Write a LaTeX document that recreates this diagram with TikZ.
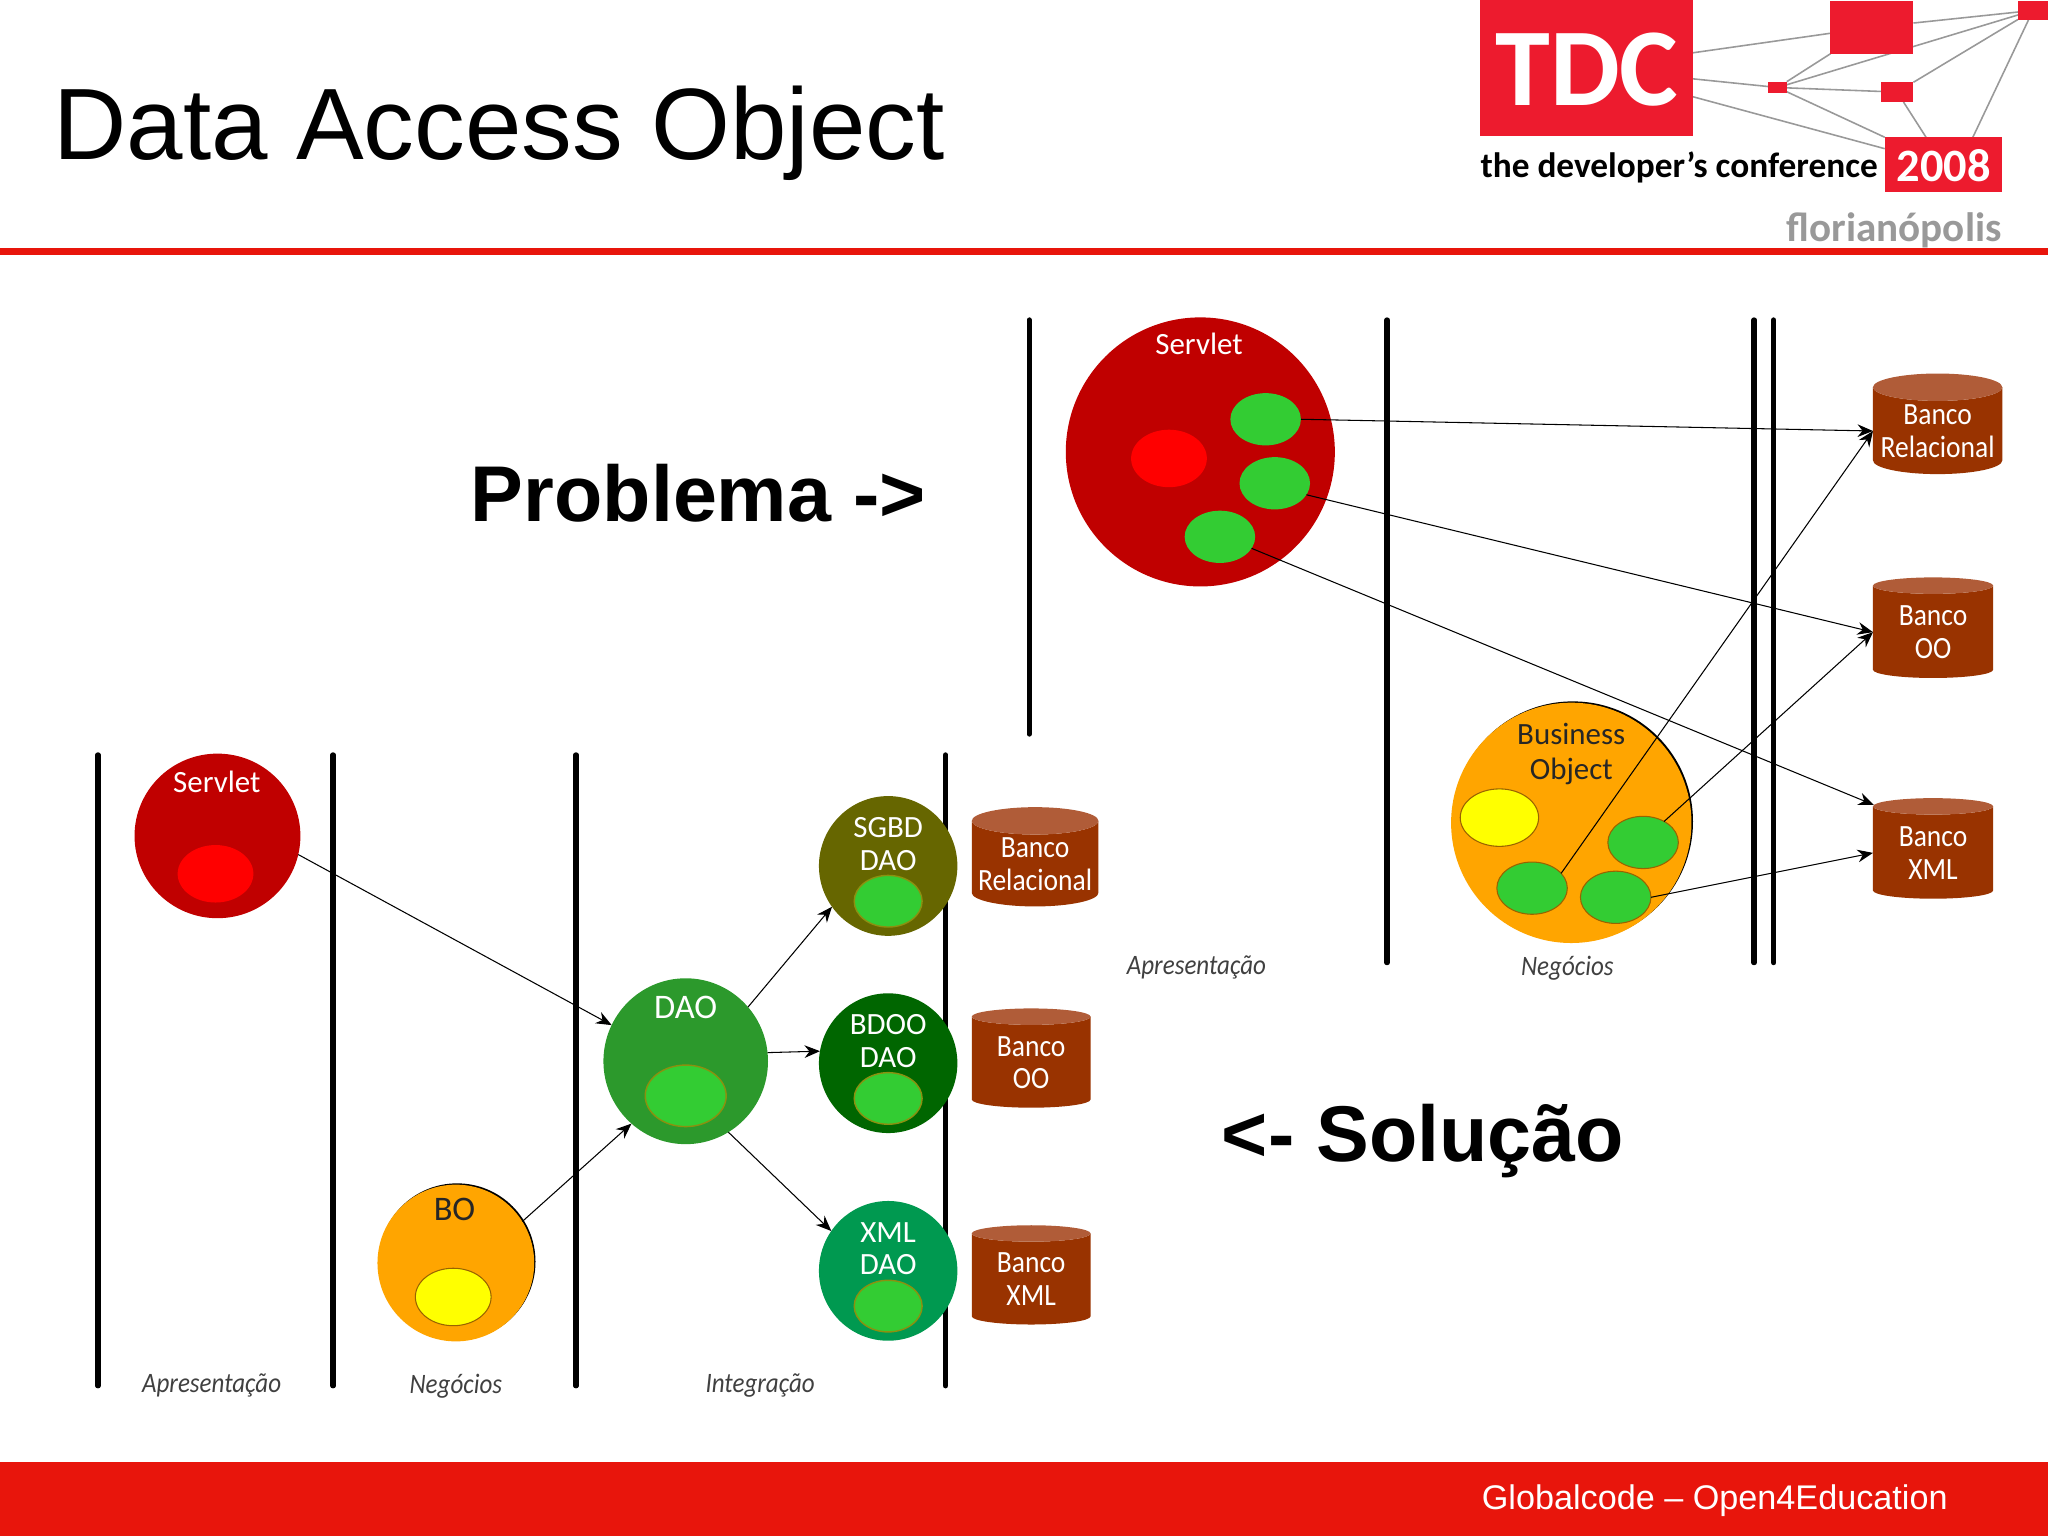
\documentclass[tikz,border=0pt]{standalone}
\usepackage{fontspec}
\usepackage{xcolor}
\usetikzlibrary{positioning, arrows.meta, shapes.geometric, backgrounds}
\setmainfont{Liberation Sans}
\newfontfamily\carlito{Carlito}
\newfontfamily\carlitonarrow[FakeStretch=0.89]{Carlito}
\definecolor{barred}{HTML}{E8150C}
\definecolor{logored}{HTML}{ED1B2E}
\definecolor{srvred}{HTML}{C00000}
\definecolor{inred}{HTML}{FF0000}
\definecolor{dbbody}{HTML}{993300}
\definecolor{dbtop}{HTML}{B05C38}
\definecolor{boorange}{HTML}{FFA500}
\definecolor{inyellow}{HTML}{FFFF00}
\definecolor{ingreen}{HTML}{33CC33}
\definecolor{daogreen}{HTML}{2C992C}
\definecolor{sgbdolive}{HTML}{666600}
\definecolor{bdoogreen}{HTML}{006600}
\definecolor{xmlgreen}{HTML}{009950}
\def\ux{0.37163pt}
\begin{document}
\begin{tikzpicture}[x=0.0130612cm, y=-0.0130612cm]
  \tikzstyle{lane} = [line width=1.5pt, line cap=round]
  \tikzstyle{logoline} = [draw=black!40, line width=0.45pt]
  \tikzstyle{logobox} = [rectangle, fill=logored, inner sep=0, outer sep=0]
  \tikzstyle{link} = [-{Stealth[length=4.4pt,width=3.6pt]}, line width=0.3pt]
  \tikzstyle{bigtext} = [anchor=base west, inner sep=0, font=\fontsize{22.5}{24}\bfseries\selectfont]
  \tikzstyle{tag} = [inner sep=0, align=center, font=\fontsize{8.8}{9.3}\carlito]
  \tikzstyle{bigtag} = [inner sep=0, align=center, font=\fontsize{9.8}{10}\carlito]
  \tikzstyle{layer} = [inner sep=0, text=black!75, font=\fontsize{8}{9}\carlitonarrow\itshape]
  \tikzset{
    oval/.style n args={3}{ellipse, fill=#3, inner sep=0, outer sep=0, minimum width=#1*\ux, minimum height=#2*\ux},
    dbase/.style n args={2}{cylinder, shape border rotate=90, aspect=0.24, cylinder uses custom fill,
      cylinder body fill=dbbody, cylinder end fill=dbtop, inner sep=0, outer sep=0, text=white, align=center,
      font=\fontsize{8.8}{9.3}\carlitonarrow, minimum width=#1*\ux, minimum height=#2*\ux},
    greenout/.style={oval={54}{40}{ingreen}, draw=black!40!boorange, line width=0.3pt},
    greendao/.style={oval={#1}{#1*0.76}{ingreen}, draw=boorange!60!ingreen!80!black, line width=0.4pt}
  }
  \useasboundingbox (0,0) rectangle (1568,1176);

  % Cabecalho
  \node[anchor=base west, inner sep=0, font=\fontsize{28.87}{30}\selectfont] (title) at (40.5,122) {Data Access Object};
  \fill[barred] (0,190) rectangle (1568,195);

  % Logo
  \node[logobox, minimum width=163*\ux, minimum height=104*\ux] (tdc) at (1214.5,52) {};
  \node[text=white, inner sep=0, font=\fontsize{31.5}{32}\carlito\bfseries] (tdcName) at (1215,53) {TDC};
  \node[logobox, minimum width=64*\ux, minimum height=40*\ux] (sqBig) at (1433,21) {};
  \node[logobox, minimum width=23*\ux, minimum height=14*\ux] (sqTop) at (1556.5,8) {};
  \node[logobox, minimum width=14*\ux, minimum height=9*\ux] (sqSmall) at (1361,67) {};
  \node[logobox, minimum width=25*\ux, minimum height=15*\ux] (sqMid) at (1452.5,70.5) {};
  \node[logobox, minimum width=90*\ux, minimum height=42*\ux] (year) at (1488,126) {};
  \node[text=white, inner sep=0, font=\fontsize{13.2}{14}\carlito\bfseries] (yearTxt) at (1488,127) {2008};
  \node[anchor=base west, inner sep=0, font=\fontsize{10.05}{11}\carlito\bfseries] (slogan) at (1133,136) {the developer’s conference};
  \node[anchor=base east, inner sep=0, text=black!40, font=\fontsize{11.7}{12}\carlito\bfseries] (city) at (1533,185) {florianópolis};
  \begin{scope}[on background layer]
    \draw[logoline] (tdc) -- (sqBig);
    \draw[logoline] (tdc) -- (sqSmall);
    \draw[logoline] (tdc) -- (year);
    \draw[logoline] (sqSmall) -- (sqBig);
    \draw[logoline] (sqSmall) -- (sqTop);
    \draw[logoline] (sqSmall) -- (sqMid);
    \draw[logoline] (sqSmall) -- (year);
    \draw[logoline] (sqBig) -- (sqTop);
    \draw[logoline] (sqMid) -- (sqTop);
    \draw[logoline] (sqMid) -- (year);
    \draw[logoline] (sqTop) -- (year.43);
  \end{scope}

  % Rodape
  \fill[barred] (0,1119) rectangle (1568,1176);
  \node[anchor=base west, inner sep=0, text=white, font=\fontsize{9.73}{11}\selectfont] (footer) at (1134,1156) {Globalcode – Open4Education};

  \node[bigtext] (problema) at (360,399) {Problema ->};
  \node[bigtext] (solucao) at (935,889) {<- Solução};

  % Problema
  \foreach \xp/\yend [count=\i] in {788/562,1062/737,1343/737,1358/737}
    \draw[lane] (\xp,245) coordinate (laneTop\i) -- (\xp,\yend);

  \node[oval={206}{206}{srvred}] (srvTop) at (919,346) {};
  \node[tag, text=white] (srvTopTxt) at (918,263) {Servlet};
  \node[oval={58}{44}{inred}] (srvTopIn) at (895,351) {};
  \foreach \nm/\xp/\yp in {gTopA/969/321,gTopB/976/370,gTopC/934/411}
    \node[oval={54}{40}{ingreen}] (\nm) at (\xp,\yp) {};

  \node[oval={184}{184}{black}] (boTopRim) at (1204.2,629) {};
  \node[oval={184}{184}{boorange}] (boTop) at (1203,630) {};
  \node[tag, text=black!85] (boTopTxt) at (1203,577) {Business\\[0.6pt]Object};
  \node[oval={60}{44}{inyellow}, draw=black!40!boorange, line width=0.3pt] (boTopIn) at (1148,626) {};
  \foreach \nm/\xp/\yp in {gBoA/1258/645,gBoB/1173/680,gBoC/1237/687}
    \node[greenout] (\nm) at (\xp,\yp) {};

  \node[dbase={99}{77}] (relTop) at (1483.5,330) {Banco\\Relacional};
  \node[dbase={92}{77}] (ooTop) at (1480,484) {Banco\\OO};
  \node[dbase={92}{77}] (xmlTop) at (1480,653) {Banco\\XML};

  \draw[link] (gTopA.east) -- (relTop.west);
  \draw[link] (gTopB.-20) -- (ooTop.west);
  \draw[link] (gTopC.-20) -- (xmlTop.141);
  \draw[link] (gBoB.27) -- (relTop.west);
  \draw[link] (gBoA.45) -- (ooTop.west);
  \draw[link] (gBoC.east) -- (xmlTop.west);

  \node[layer] (apresTop) at (916,741) {Apresentação};
  \node[layer] (negTop) at (1200,741) {Negócios};

  % Solucao
  \foreach \xp [count=\i] in {75,255,441,724}
    \draw[lane] (\xp,578) coordinate (laneLow\i) -- (\xp,1061);

  \node[oval={127}{126}{srvred}] (srvLow) at (166.5,640) {};
  \node[tag, text=white] (srvLowTxt) at (166,599) {Servlet};
  \node[oval={58}{44}{inred}] (srvLowIn) at (165,669) {};

  \node[oval={120}{120}{black}] (boLowRim) at (350,966) {};
  \node[oval={120}{120}{boorange}] (boLow) at (349,967) {};
  \node[bigtag, text=black!85] (boLowTxt) at (348,926) {BO};
  \node[oval={58}{44}{inyellow}, draw=black!40!boorange, line width=0.3pt] (boLowIn) at (347,993) {};

  \node[oval={126}{127}{daogreen}] (dao) at (525,812.5) {};
  \node[bigtag, text=white] (daoTxt) at (525,771) {DAO};
  \node[greendao=62] (daoIn) at (525,839) {};

  \foreach \nm/\yp/\col/\lbl in {sgbd/663/sgbdolive/SGBD, bdoo/814/bdoogreen/BDOO, xmldao/973/xmlgreen/XML} {
    \node[oval={106}{107}{\col}] (\nm) at (680,\yp) {};
    \node[tag, text=white] (\nm Txt) at (680,\yp-17) {\lbl\\DAO};
    \node[greendao=52] (\nm In) at (680,\yp+27) {};
  }

  \node[dbase={97}{76}] (relLow) at (792.5,661.5) {Banco\\Relacional};
  \node[dbase={91}{76}] (ooLow) at (789.5,813.5) {Banco\\OO};
  \node[dbase={91}{76}] (xmlLow) at (789.5,979.5) {Banco\\XML};

  \draw[link] (srvLow.-13) -- (dao.154);
  \draw[link] (boLow.32) -- (dao.229);
  \draw[link] (dao.41) -- (sgbd.216);
  \draw[link] (dao.6) -- (bdoo.170);
  \draw[link] (dao.-59) -- (xmldao.145);

  \node[layer] (apresLow) at (162,1061) {Apresentação};
  \node[layer] (negLow) at (349,1061) {Negócios};
  \node[layer] (integra) at (582,1061) {Integração};
\end{tikzpicture}
\end{document}
